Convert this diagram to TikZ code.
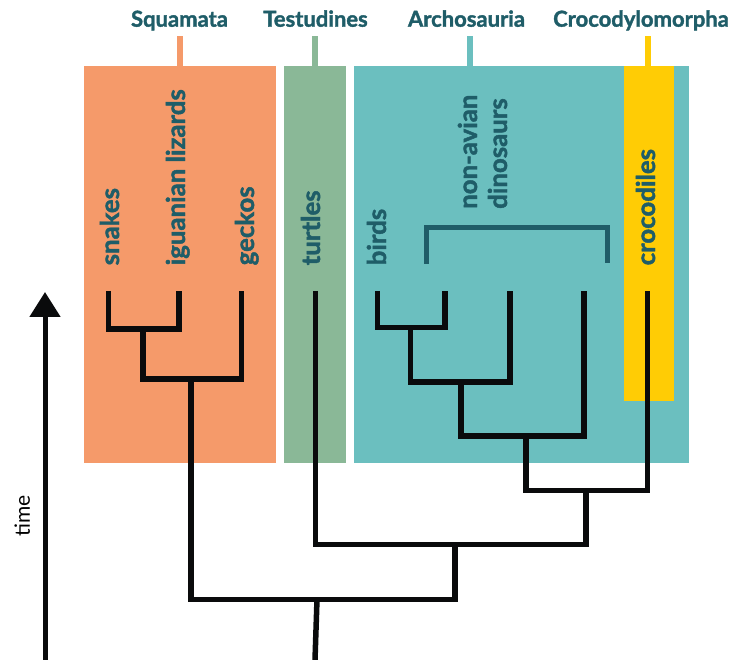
\documentclass[tikz,border=0pt]{standalone}
\usepackage{fontspec}
\setmainfont{Lato}
\newfontfamily\heavy{Lato}[BoldFeatures={FakeBold=1.6}]
\usetikzlibrary{arrows.meta}
\definecolor{sqc}{HTML}{F59A6A}
\definecolor{tec}{HTML}{8AB897}
\definecolor{arc}{HTML}{6BBFBF}
\definecolor{crc}{HTML}{FFCC05}
\definecolor{txc}{HTML}{1F5D68}
\definecolor{brc}{HTML}{0A0B0C}
\begin{document}
\begin{tikzpicture}[x=1pt,y=-1pt,
  grp/.style={font=\fontsize{22}{26}\selectfont\heavy\bfseries, text=txc, inner sep=0pt, anchor=base},
  taxon/.style={font=\fontsize{25.8}{30}\selectfont\heavy\bfseries, text=txc, inner sep=0pt, rotate=90, anchor=base west, align=left},
  branch/.style={line width=5.5pt, brc},
  stem/.style={line width=6pt},
  bracket/.style={line width=5pt, txc},
]
\useasboundingbox (0,0) rectangle (734,660);
% group boxes
\fill[sqc] (84,66) rectangle (276,463);
\fill[tec] (284,66) rectangle (345.5,463);
\fill[arc] (354,66) rectangle (689,463);
\fill[crc] (623.5,66) rectangle (673.5,401.5);
% stems and group labels
\node[grp] (lsq) at (179.5,26.7) {Squamata};
\node[grp] (lte) at (315.5,26.7) {Testudines};
\node[grp] (lar) at (466.5,26.7) {Archosauria};
\node[grp] (lcr) at (641,26.7) {Crocodylomorpha};
\coordinate (ssq1) at (180,36.5); \coordinate (ssq2) at (180,66);
\coordinate (ste1) at (315,36.5); \coordinate (ste2) at (315,66);
\coordinate (sar1) at (470,36.5); \coordinate (sar2) at (470,66);
\coordinate (scr1) at (648,36.5); \coordinate (scr2) at (648,66);
\draw[stem, sqc] (ssq1) -- (ssq2);
\draw[stem, tec] (ste1) -- (ste2);
\draw[stem, arc] (sar1) -- (sar2);
\draw[stem, crc] (scr1) -- (scr2);
% taxon labels
\node[taxon] (tsn) at (119,265.5) {snakes};
\node[taxon] (tig) at (185,265.5) {iguanian lizards};
\node[taxon] (tge) at (254,265.5) {geckos};
\node[taxon] (ttu) at (320,265.5) {turtles};
\node[taxon] (tbi) at (386,265.5) {birds};
\node[taxon] (tdi) at (507,209) {non-avian\\dinosaurs};
\node[taxon] (tcr) at (655,265.5) {crocodiles};
% bracket
\coordinate (b1) at (426.5,264); \coordinate (b2) at (426.5,228);
\coordinate (b3) at (607,228); \coordinate (b4) at (607,263);
\draw[bracket] (b1) -- (b2) -- (b3) -- (b4);
% tips
\coordinate (snakeT) at (108.7,291);
\coordinate (iguT) at (179,291);
\coordinate (geckT) at (241.3,291);
\coordinate (turtT) at (315.5,291);
\coordinate (birdT) at (377.5,291);
\coordinate (d1T) at (445,291);
\coordinate (d2T) at (510,291);
\coordinate (d3T) at (584,291);
\coordinate (crocT) at (647.5,291);
% internal nodes
\coordinate (n1) at (143,329);
\coordinate (n2) at (191,379);
\coordinate (n3) at (410.5,327.5);
\coordinate (n4) at (461,382);
\coordinate (n5) at (526,436);
\coordinate (n6) at (586,490.5);
\coordinate (n7) at (455,544.5);
\coordinate (n8) at (317,599.5);
\coordinate (root) at (315,660);
% tree
\draw[branch] (snakeT) |- (n1) -| (iguT);
\draw[branch] (n1) |- (n2) -| (geckT);
\draw[branch] (birdT) |- (n3) -| (d1T);
\draw[branch] (n3) |- (n4) -| (d2T);
\draw[branch] (n4) |- (n5) -| (d3T);
\draw[branch] (n5) |- (n6) -| (crocT);
\draw[branch] (turtT) |- (n7) -| (n6);
\draw[branch] (n2) |- (n8) -| (n7);
\draw[branch] (n8) -- (root);
% time axis
\coordinate (tb) at (45,660);
\coordinate (tt) at (45,292);
\draw[line width=5pt, brc, -{Triangle[width=30pt,length=25pt]}] (tb) -- (tt);
\node[font=\fontsize{21}{24}\selectfont, rotate=90, anchor=base west, inner sep=0pt] (time) at (30,537) {time};
\end{tikzpicture}
\end{document}
